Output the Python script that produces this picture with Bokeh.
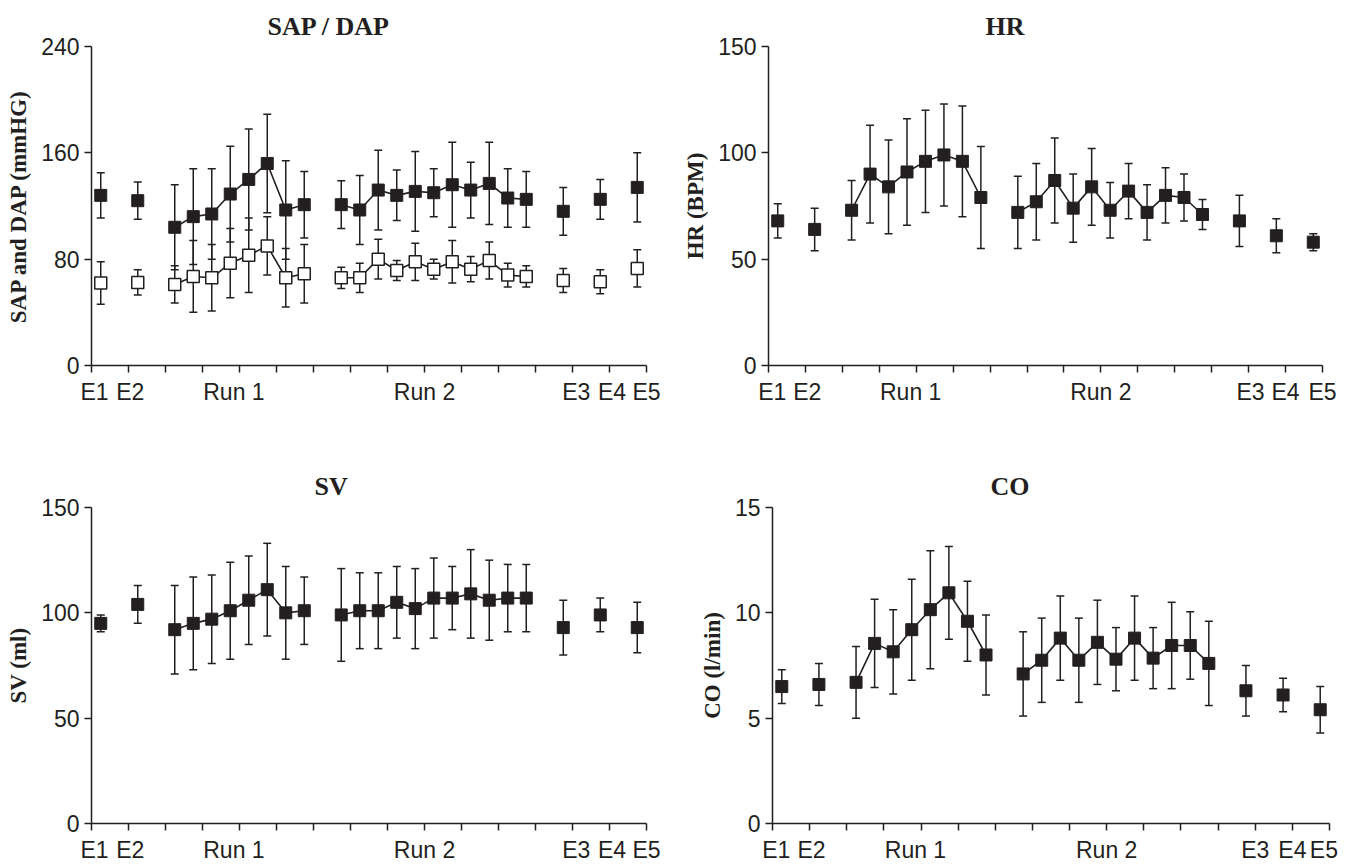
from bokeh.plotting import figure
from bokeh.layouts import column, row
from bokeh.models import FixedTicker
from bokeh.embed import file_html
from bokeh.resources import INLINE

# ---------------- data ----------------
# x positions of the measurement points on the 0..15 time axis
E_X = [0.25, 1.25, 12.75, 13.75, 14.75]
RUN1_X = [2.25, 2.75, 3.25, 3.75, 4.25, 4.75, 5.25, 5.75]
RUN2_X = [6.75, 7.25, 7.75, 8.25, 8.75, 9.25, 9.75, 10.25, 10.75, 11.25, 11.75]
X_LABELS = ["E1", "E2", "Run 1", "Run 2", "E3", "E4", "E5"]
X_TICKS = list(range(16))

# SAP (filled) / DAP (open)
sap_e = [128, 124, 116, 125, 134]
sap_e_sd = [17, 14, 18, 15, 26]
sap_r1 = [104, 112, 114, 129, 140, 152, 117, 121]
sap_r1_sd = [32, 36, 34, 36, 38, 37, 37, 25]
sap_r2 = [121, 117, 132, 128, 131, 130, 136, 132, 137, 126, 125]
sap_r2_sd = [18, 26, 30, 19, 30, 18, 32, 21, 31, 22, 21]

dap_e = [62, 62.5, 64, 63, 73]
dap_e_sd = [16, 9.5, 9, 9, 14]
dap_r1 = [61, 67, 66, 77, 83, 90, 66, 69]
dap_r1_sd = [14, 27, 25, 26, 28, 22, 22, 22]
dap_r2 = [66, 66, 80, 71.5, 78, 72.5, 78, 72.5, 79, 68, 67]
dap_r2_sd = [8, 11, 15, 7.5, 14, 7.5, 16, 9.5, 14, 9, 8]

# HR
hr_e = [68, 64, 68, 61, 58]
hr_e_sd = [8, 10, 12, 8, 4]
hr_r1 = [73, 90, 84, 91, 96, 99, 96, 79]
hr_r1_sd = [14, 23, 22, 25, 24, 24, 26, 24]
hr_r2 = [72, 77, 87, 74, 84, 73, 82, 72, 80, 79, 71]
hr_r2_sd = [17, 18, 20, 16, 18, 13, 13, 13, 13, 11, 7]

# SV
sv_e = [95, 104, 93, 99, 93]
sv_e_sd = [4, 9, 13, 8, 12]
sv_r1 = [92, 95, 97, 101, 106, 111, 100, 101]
sv_r1_sd = [21, 22, 21, 23, 21, 22, 22, 16]
sv_r2 = [99, 101, 101, 105, 102, 107, 107, 109, 106, 107, 107]
sv_r2_sd = [22, 18, 18, 17, 19, 19, 15, 21, 19, 16, 16]

# CO
co_e = [6.5, 6.6, 6.3, 6.1, 5.4]
co_e_sd = [0.8, 1.0, 1.2, 0.8, 1.1]
co_r1 = [6.7, 8.55, 8.15, 9.2, 10.15, 10.95, 9.6, 8.0]
co_r1_sd = [1.7, 2.1, 2.0, 2.4, 2.8, 2.2, 1.9, 1.9]
co_r2 = [7.1, 7.75, 8.8, 7.75, 8.6, 7.8, 8.8, 7.85, 8.45, 8.45, 7.6]
co_r2_sd = [2.0, 2.0, 2.0, 2.0, 2.0, 1.5, 2.0, 1.45, 2.05, 1.6, 2.0]

SAP_TICKS = [0, 80, 160, 240]
HR_TICKS = [0, 50, 100, 150]
SV_TICKS = [0, 50, 100, 150]
CO_TICKS = [0, 5, 10, 15]

# ---------------- style / layout ----------------
INK = "#231f20"
SANS = "Liberation Sans"
SERIF = "Liberation Serif"
LP_LEFT = [0.08, 1.05, 3.85, 9.0, 13.1, 14.07, 15.0]
LP_HR = [0.1, 1.05, 3.85, 9.0, 13.05, 14.0, 15.0]
LP_CO = [0.1, 1.05, 3.85, 9.0, 13.0, 14.0, 14.85]


def make_panel(title, ylabel, yticks, series, width, height, left, right, top, bottom,
               label_pos, title_offset, title_standoff):
    p = figure(width=width, height=height, output_backend="svg", toolbar_location=None,
               x_range=(0, 15), y_range=(yticks[0], yticks[-1]),
               min_border_left=left, min_border_right=right,
               min_border_top=top, min_border_bottom=bottom,
               background_fill_color="white", border_fill_color="white")
    p.outline_line_color = None
    p.grid.visible = False

    p.title.text = title
    p.title.text_font = SERIF
    p.title.text_font_style = "bold"
    p.title.text_font_size = "26px"
    p.title.text_color = INK
    p.title.align = "left"
    p.title.offset = title_offset
    p.title.standoff = title_standoff

    # x axis: tick marks at integers (minor), labels at label positions (major)
    xa = p.xaxis[0]
    xa.ticker = FixedTicker(ticks=label_pos, minor_ticks=X_TICKS)
    xa.major_label_overrides = {pos: txt for pos, txt in zip(label_pos, X_LABELS)}
    xa.axis_line_color = INK
    xa.axis_line_width = 1.5
    xa.minor_tick_line_color = INK
    xa.minor_tick_line_width = 1.5
    xa.minor_tick_out = 7
    xa.minor_tick_in = 0
    xa.major_tick_out = 0
    xa.major_tick_in = 0
    xa.major_tick_line_color = None
    xa.major_label_text_font = SANS
    xa.major_label_text_font_size = "23px"
    xa.major_label_text_color = INK
    xa.major_label_standoff = 6

    ya = p.yaxis[0]
    ya.ticker = FixedTicker(ticks=yticks)
    ya.axis_line_color = INK
    ya.axis_line_width = 1.5
    ya.major_tick_line_color = INK
    ya.major_tick_line_width = 1.5
    ya.major_tick_out = 7
    ya.major_tick_in = 0
    ya.minor_tick_line_color = None
    ya.major_label_text_font = SANS
    ya.major_label_text_font_size = "23px"
    ya.major_label_text_color = INK
    ya.major_label_standoff = 5
    ya.axis_label = ylabel
    ya.axis_label_text_font = SERIF
    ya.axis_label_text_font_style = "bold"
    ya.axis_label_text_font_size = "23px"
    ya.axis_label_text_color = INK
    ya.axis_label_standoff = 7

    xs = E_X + RUN1_X + RUN2_X
    # error bars first
    for (e, esd, r1, r1sd, r2, r2sd, filled) in series:
        ys = e + r1 + r2
        sds = esd + r1sd + r2sd
        lo = [y - s for y, s in zip(ys, sds)]
        hi = [y + s for y, s in zip(ys, sds)]
        p.segment(x0=xs, y0=lo, x1=xs, y1=hi, line_color=INK, line_width=1.5)
        p.scatter(xs, hi, marker="dash", size=8, line_color=INK, line_width=1.5)
        p.scatter(xs, lo, marker="dash", size=8, line_color=INK, line_width=1.5)

    for (e, esd, r1, r1sd, r2, r2sd, filled) in series:
        p.line(RUN1_X, r1, line_color=INK, line_width=1.6)
        p.line(RUN2_X, r2, line_color=INK, line_width=1.6)
        ys = e + r1 + r2
        if filled:
            p.scatter(xs, ys, marker="square", size=12, fill_color=INK,
                      line_color=INK, line_width=1)
        else:
            p.scatter(xs, ys, marker="square", size=12, fill_color="white",
                      line_color=INK, line_width=1.5)
    return p


p1 = make_panel("SAP / DAP", "SAP and DAP (mmHG)", SAP_TICKS,
                [(dap_e, dap_e_sd, dap_r1, dap_r1_sd, dap_r2, dap_r2_sd, False),
                 (sap_e, sap_e_sd, sap_r1, sap_r1_sd, sap_r2, sap_r2_sd, True)],
                680, 435, 91, 34, 46, 70, LP_LEFT, 176, 11)
p2 = make_panel("HR", "HR (BPM)", HR_TICKS,
                [(hr_e, hr_e_sd, hr_r1, hr_r1_sd, hr_r2, hr_r2_sd, True)],
                666, 435, 88, 24, 46, 70, LP_HR, 217, 11)
p3 = make_panel("SV", "SV (ml)", SV_TICKS,
                [(sv_e, sv_e_sd, sv_r1, sv_r1_sd, sv_r2, sv_r2_sd, True)],
                680, 430, 91, 34, 72, 38, LP_LEFT, 223, 14)
p4 = make_panel("CO", "CO (l/min)", CO_TICKS,
                [(co_e, co_e_sd, co_r1, co_r1_sd, co_r2, co_r2_sd, True)],
                666, 430, 92, 17, 72, 38, LP_CO, 218, 14)

layout = column(row(p1, p2), row(p3, p4))
open("out.html", "w").write(file_html(layout, INLINE))
